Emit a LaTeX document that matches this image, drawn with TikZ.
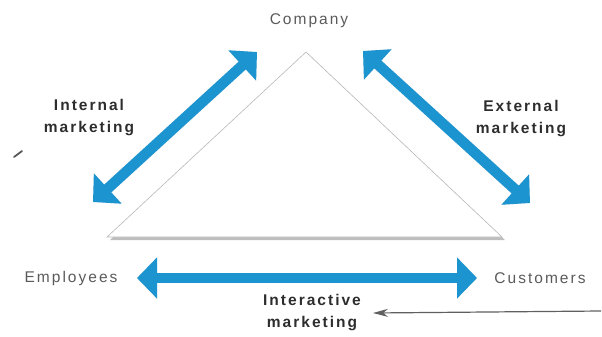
\documentclass[tikz,border=0pt]{standalone}
\usepackage{fontspec}
\setmainfont{Liberation Sans}[LetterSpace=13]
\usetikzlibrary{arrows.meta,shadows,calc}
\definecolor{arrowblue}{RGB}{27,148,208}
\definecolor{txt}{RGB}{90,90,90}
\definecolor{btxt}{RGB}{45,45,45}
\begin{document}
\begin{tikzpicture}[x=1pt,y=-1pt,
  lbl/.style={font=\fontsize{15.5}{22}\selectfont, text=txt, align=center, inner sep=0pt},
  blbl/.style={font=\fontsize{15.5}{22}\selectfont\bfseries, text=btxt, align=center, inner sep=0pt},
  bigarrow/.style={line width=10.5pt, draw=arrowblue,
    {Triangle[length=20pt,width=40pt]}-{Triangle[length=20pt,width=40pt]}},
  arrowshade/.style={line width=10.5pt, draw=black, opacity=0.10,
    {Triangle[length=20pt,width=40pt]}-{Triangle[length=20pt,width=40pt]}},
  tri/.style={fill=white, draw=gray!55, line width=0.6pt,
    drop shadow={shadow xshift=3pt, shadow yshift=-3pt, opacity=0.6, fill=gray!85}},
  pointer/.style={draw=gray!75!black, line width=1.2pt, -{Stealth[length=15pt,width=8pt]}}
]
\useasboundingbox (0,0) rectangle (602,337);

% triangle
\coordinate (apex) at (306,52);
\coordinate (bl) at (107,237);
\coordinate (br) at (502,237);
\path[tri] (apex) -- (bl) -- (br) -- cycle;

% labels
\node[lbl] (company) at (309,21) {Company};
\node[lbl] (employees) at (71,278) {Employees};
\node[lbl] (customers) at (540,278) {Customers};
\node[blbl] (internal) at (89,118) {Internal\\marketing};
\node[blbl] (external) at (521,119) {External\\marketing};
\node[blbl] (interactive) at (312,313) {Interactive\\marketing};

% arrow end points
\coordinate (inA) at (93,202);
\coordinate (inB) at (257,52);
\coordinate (exA) at (363,51);
\coordinate (exB) at (530,203);
\coordinate (hzA) at (137,278);
\coordinate (hzB) at (477,278);

% soft shadows
\begin{scope}[shift={(2,3)}]
\draw[arrowshade] (inA) -- (inB);
\draw[arrowshade] (exA) -- (exB);
\draw[arrowshade] (hzA) -- (hzB);
\end{scope}

% blue arrows
\draw[bigarrow] (inA) -- (inB);
\draw[bigarrow] (exA) -- (exB);
\draw[bigarrow] (hzA) -- (hzB);

% thin pointer
\coordinate (ptrS) at (601,311);
\coordinate (ptrT) at (373,313);
\draw[pointer] (ptrS) -- (ptrT);

% small stray mark
\coordinate (mkA) at (14,157);
\coordinate (mkB) at (22,151);
\draw[gray!70!black, line width=1.8pt, line cap=round] (mkA) -- (mkB);
\end{tikzpicture}
\end{document}
